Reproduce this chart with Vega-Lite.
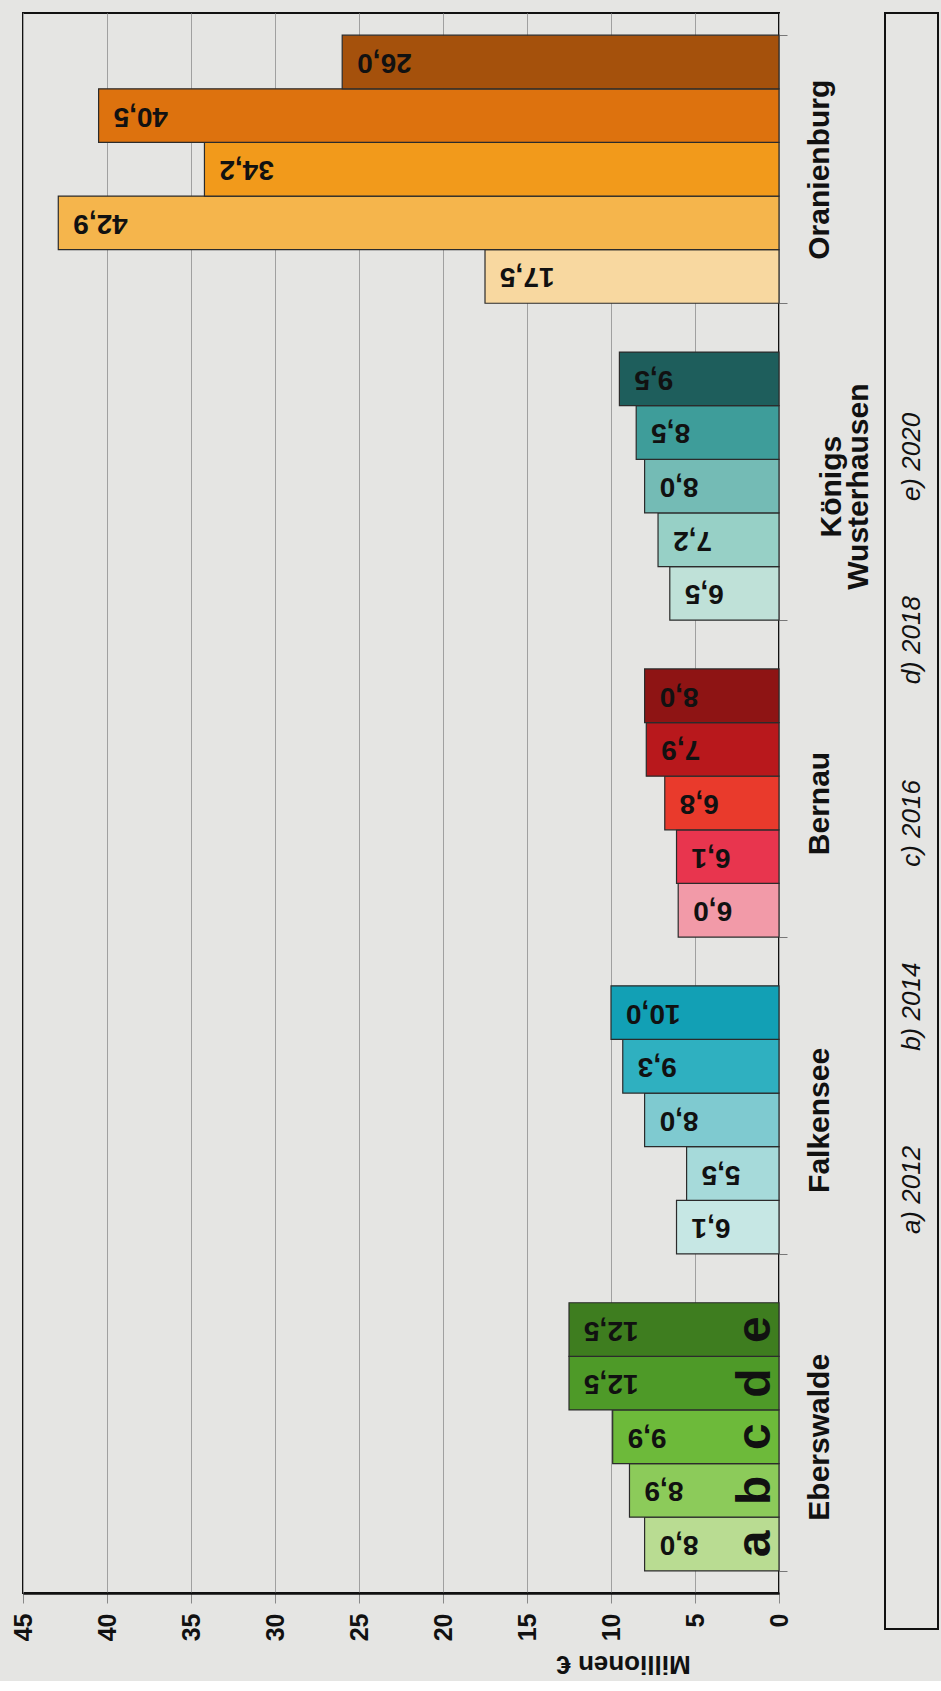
{
  "$schema": "https://vega.github.io/schema/vega-lite/v6.json",
  "background": "#e5e5e3",
  "padding": {"left": 10, "top": 11, "right": 6, "bottom": 4},
  "config": {
    "locale": {"number": {"decimal": ",", "thousands": ".", "grouping": [3], "currency": ["", " €"]}},
    "font": "Liberation Sans",
    "view": {"stroke": "#111111", "strokeWidth": 2}
  },
  "spacing": 10,
  "hconcat": [
    {
      "width": 756,
      "height": 1580,
      "data": {
        "values": [
          {"city": "Eberswalde", "year": 2012, "letter": "a", "series": "Eb-a", "value": 8.0},
          {"city": "Eberswalde", "year": 2014, "letter": "b", "series": "Eb-b", "value": 8.9},
          {"city": "Eberswalde", "year": 2016, "letter": "c", "series": "Eb-c", "value": 9.9},
          {"city": "Eberswalde", "year": 2018, "letter": "d", "series": "Eb-d", "value": 12.5},
          {"city": "Eberswalde", "year": 2020, "letter": "e", "series": "Eb-e", "value": 12.5},
          {"city": "Falkensee", "year": 2012, "letter": "a", "series": "Fa-a", "value": 6.1},
          {"city": "Falkensee", "year": 2014, "letter": "b", "series": "Fa-b", "value": 5.5},
          {"city": "Falkensee", "year": 2016, "letter": "c", "series": "Fa-c", "value": 8.0},
          {"city": "Falkensee", "year": 2018, "letter": "d", "series": "Fa-d", "value": 9.3},
          {"city": "Falkensee", "year": 2020, "letter": "e", "series": "Fa-e", "value": 10.0},
          {"city": "Bernau", "year": 2012, "letter": "a", "series": "Be-a", "value": 6.0},
          {"city": "Bernau", "year": 2014, "letter": "b", "series": "Be-b", "value": 6.1},
          {"city": "Bernau", "year": 2016, "letter": "c", "series": "Be-c", "value": 6.8},
          {"city": "Bernau", "year": 2018, "letter": "d", "series": "Be-d", "value": 7.9},
          {"city": "Bernau", "year": 2020, "letter": "e", "series": "Be-e", "value": 8.0},
          {"city": "Königs Wusterhausen", "year": 2012, "letter": "a", "series": "KW-a", "value": 6.5},
          {"city": "Königs Wusterhausen", "year": 2014, "letter": "b", "series": "KW-b", "value": 7.2},
          {"city": "Königs Wusterhausen", "year": 2016, "letter": "c", "series": "KW-c", "value": 8.0},
          {"city": "Königs Wusterhausen", "year": 2018, "letter": "d", "series": "KW-d", "value": 8.5},
          {"city": "Königs Wusterhausen", "year": 2020, "letter": "e", "series": "KW-e", "value": 9.5},
          {"city": "Oranienburg", "year": 2012, "letter": "a", "series": "Or-a", "value": 17.5},
          {"city": "Oranienburg", "year": 2014, "letter": "b", "series": "Or-b", "value": 42.9},
          {"city": "Oranienburg", "year": 2016, "letter": "c", "series": "Or-c", "value": 34.2},
          {"city": "Oranienburg", "year": 2018, "letter": "d", "series": "Or-d", "value": 40.5},
          {"city": "Oranienburg", "year": 2020, "letter": "e", "series": "Or-e", "value": 26.0}
        ]
      },
      "encoding": {
        "y": {
          "field": "city",
          "type": "nominal",
          "sort": ["Oranienburg", "Königs Wusterhausen", "Bernau", "Falkensee", "Eberswalde"],
          "scale": {"paddingInner": 0.154, "paddingOuter": 0.07},
          "axis": {
            "orient": "right",
            "title": null,
            "domain": false,
            "grid": false,
            "ticks": true,
            "tickBand": "extent",
            "tickSize": 8,
            "tickColor": "#777777",
            "labelAngle": -90,
            "labelAlign": "center",
            "labelBaseline": "top",
            "labelFontSize": 30,
            "labelFontWeight": "bold",
            "labelColor": "#111111",
            "labelOverlap": false,
            "labelLimit": 500,
            "labelPadding": {"condition": {"test": "datum.value === 'Königs Wusterhausen'", "value": 29}, "value": 17},
            "labelExpr": "split(datum.label, ' ')",
            "labelLineHeight": 27
          }
        },
        "yOffset": {
          "field": "year",
          "type": "ordinal",
          "sort": "descending",
          "scale": {"paddingInner": 0, "paddingOuter": 0}
        }
      },
      "layer": [
        {
          "mark": {"type": "bar", "stroke": "#2b2b2b", "strokeWidth": 1.2},
          "encoding": {
            "x": {
              "field": "value",
              "type": "quantitative",
              "scale": {"domain": [0, 45], "reverse": true, "nice": false},
              "axis": {
                "orient": "bottom",
                "values": [0, 5, 10, 15, 20, 25, 30, 35, 40, 45],
                "title": "Millionen €",
                "titleAngle": 180,
                "titleFontSize": 26,
                "titleFontWeight": "bold",
                "titleColor": "#111111",
                "titleX": 600,
                "titleY": 70,
                "titleAlign": "center",
                "titleBaseline": "middle",
                "labelAngle": -90,
                "labelAlign": "right",
                "labelBaseline": "middle",
                "labelFontSize": 25,
                "labelFontWeight": "bold",
                "labelColor": "#111111",
                "labelPadding": 10,
                "labelFlush": false,
                "labelOverlap": false,
                "tickSize": 10,
                "tickColor": "#888888",
                "domainColor": "#111111",
                "domainWidth": 2.5,
                "grid": true,
                "gridColor": "#a0a0a0",
                "gridWidth": 1
              }
            },
            "color": {
              "field": "series",
              "type": "nominal",
              "legend": null,
              "scale": {
                "domain": ["Eb-a", "Eb-b", "Eb-c", "Eb-d", "Eb-e", "Fa-a", "Fa-b", "Fa-c", "Fa-d", "Fa-e", "Be-a", "Be-b", "Be-c", "Be-d", "Be-e", "KW-a", "KW-b", "KW-c", "KW-d", "KW-e", "Or-a", "Or-b", "Or-c", "Or-d", "Or-e"],
                "range": ["#b9dc92", "#8ccb5a", "#6dba3a", "#4e9a28", "#3e7d1f", "#c6e7e4", "#a6dada", "#7fcad0", "#2fb0c0", "#12a0b5", "#f29aa8", "#e8354e", "#e93a2c", "#b8181c", "#8e1414", "#bfe1d8", "#97d0c6", "#74bbb5", "#3e9d9a", "#1e5e5c", "#f8d8a0", "#f5b54c", "#f29a1b", "#dd720e", "#a5510c"]
              }
            }
          }
        },
        {
          "mark": {"type": "text", "angle": 180, "align": "right", "baseline": "middle", "dx": -15, "fontSize": 28, "fontWeight": "bold", "color": "#111111"},
          "encoding": {
            "x": {"field": "value", "type": "quantitative"},
            "text": {"field": "value", "type": "quantitative", "format": ".1f"}
          }
        },
        {
          "transform": [{"filter": "datum.city === 'Eberswalde'"}],
          "mark": {"type": "text", "angle": -90, "align": "center", "baseline": "alphabetic", "dy": -9, "fontSize": 48, "fontWeight": "bold", "color": "#111111"},
          "encoding": {
            "x": {"datum": 0, "type": "quantitative"},
            "text": {"field": "letter", "type": "nominal"}
          }
        }
      ]
    },
    {
      "width": 53,
      "height": 1616,
      "data": {
        "values": [
          {"letter": "a", "label": "a) 2012"},
          {"letter": "b", "label": "b) 2014"},
          {"letter": "c", "label": "c) 2016"},
          {"letter": "d", "label": "d) 2018"},
          {"letter": "e", "label": "e) 2020"}
        ]
      },
      "mark": {"type": "text", "angle": -90, "align": "center", "baseline": "middle", "fontSize": 26, "fontStyle": "italic", "color": "#111111"},
      "encoding": {
        "y": {"field": "letter", "type": "ordinal", "sort": ["e", "d", "c", "b", "a"], "scale": {"type": "point", "range": [444, 1177], "padding": 0}, "axis": null},
        "text": {"field": "label", "type": "nominal"}
      }
    }
  ]
}
